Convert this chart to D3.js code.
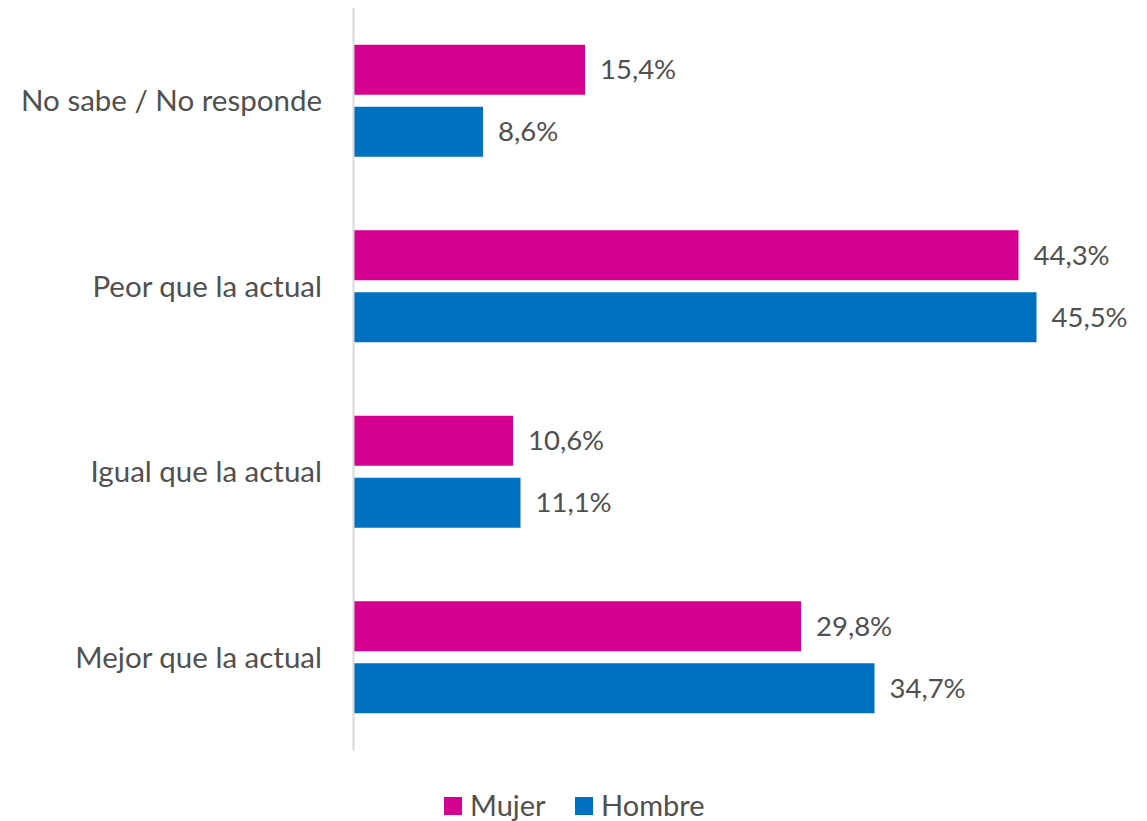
<!DOCTYPE html>
<html><head><meta charset="utf-8">
<script src="https://cdn.jsdelivr.net/npm/d3@7"></script>
<style>body{margin:0;background:#fff}svg{display:block}text{font-family:Lato,"Open Sans",sans-serif;fill:#505050}</style>
</head><body><svg id="c" width="1147" height="821"></svg>
<script>
const categories = ["No sabe / No responde","Peor que la actual","Igual que la actual","Mejor que la actual"];
const series = ["Mujer","Hombre"];
const mujer = [15.4, 44.3, 10.6, 29.8];
const hombre = [8.6, 45.5, 11.1, 34.7];
const colors = ["#D5008F","#0070C0"];

const svg = d3.select("#c");
const x = d3.scaleLinear().domain([0,50]).range([354,1104]);
const y = d3.scaleBand().domain(categories).range([8,750]).padding(0);
const ys = d3.scaleBand().domain(series).range([36.75,148.75]).paddingInner(0.1935);
const data = [mujer, hombre];
const fmt = v => d3.format(".1f")(v).replace(".",",")+"%";

const g = svg.append("g");
categories.forEach((c,i)=>{
  series.forEach((s,j)=>{
    const v = data[j][i];
    g.append("rect").attr("x",x(0)).attr("y",y(c)+ys(s)).attr("width",x(v)-x(0)).attr("height",ys.bandwidth()).attr("fill",colors[j]);
    g.append("text").attr("x",x(v)+15).attr("y",y(c)+ys(s)+ys.bandwidth()/2).attr("dy","0.35em").attr("font-size",27.5).text(fmt(v));
  });
});
// category axis
svg.append("line").attr("x1",353.5).attr("x2",353.5).attr("y1",8).attr("y2",750).attr("stroke","#D9D9D9").attr("stroke-width",2);
categories.forEach(c=>{
  svg.append("text").attr("x",322).attr("y",y(c)+y.bandwidth()/2).attr("dy","0.35em").attr("text-anchor","end").attr("font-size",29.5).text(c);
});
// legend
const leg = svg.append("g");
const lx = [444, 575];
series.forEach((s,j)=>{
  leg.append("rect").attr("x",lx[j]).attr("y",797).attr("width",18).attr("height",18).attr("fill",colors[j]);
  leg.append("text").attr("x",lx[j]+26).attr("y",806).attr("dy","0.35em").attr("font-size",29).text(s);
});
</script></body></html>
